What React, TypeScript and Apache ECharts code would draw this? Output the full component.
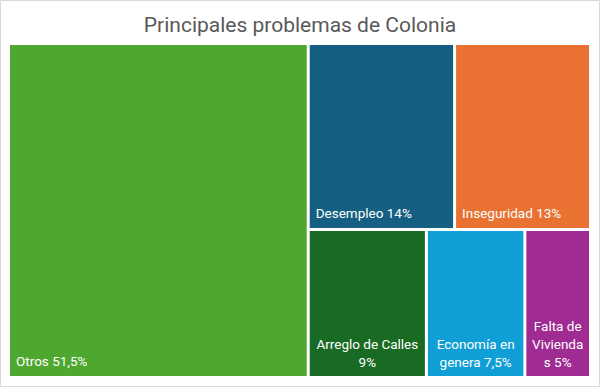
import React, { useEffect, useRef } from "react";
import * as echarts from "echarts";

const titleText = "Principales problemas de Colonia";
const names = ["Otros", "Desempleo", "Inseguridad", "Arreglo de Calles", "Economía en genera", "Falta de Viviendas"];
const values = [51.5, 14, 13, 9, 7.5, 5];
const labelTexts = ["Otros 51,5%", "Desempleo 14%", "Inseguridad 13%", "Arreglo de Calles\n9%", "Economía en\ngenera 7,5%", "Falta de\nVivienda\ns 5%"];
const colors = ["#4EA72E", "#156082", "#E97132", "#196B24", "#0F9ED5", "#A02B93"];
const centered = [false, false, false, true, true, true];

export default function App() {
  const ref = useRef<HTMLDivElement>(null);
  useEffect(() => {
    document.body.style.margin = "0";
    const chart = echarts.init(ref.current!, null, { renderer: "svg" });
    const data = names.map((n, i) => ({
      name: n,
      value: values[i],
      itemStyle: { color: colors[i] },
      label: centered[i]
        ? { position: "insideBottom", align: "center", distance: 0 }
        : { position: "insideBottomLeft", distance: 1 },
    }));
    chart.setOption({
      animation: false,
      backgroundColor: "#ffffff",
      title: {
        text: titleText,
        left: "center",
        top: 9,
        textStyle: { color: "#595959", fontSize: 21, fontWeight: "normal", fontFamily: "Roboto" },
      },
      graphic: [
        {
          type: "rect",
          shape: { x: 0.5, y: 0.5, width: 599, height: 386 },
          style: { fill: "none", stroke: "#d9d9d9", lineWidth: 1 },
          silent: true,
        },
      ],
      series: [
        {
          type: "treemap",
          left: 10,
          top: 45,
          width: 579,
          height: 331,
          roam: false,
          nodeClick: false,
          squareRatio: 1,
          breadcrumb: { show: false },
          sort: "desc",
          levels: [
            { itemStyle: { gapWidth: 3, borderWidth: 0, borderColor: "#ffffff" } },
            { itemStyle: { borderWidth: 0 } },
          ],
          label: {
            show: true,
            color: "#ffffff",
            fontSize: 13.5,
            fontFamily: "Roboto",
            lineHeight: 18,
            overflow: "none",
            formatter: (p: any) => labelTexts[names.indexOf(p.name)],
          },
          data,
        },
      ],
    });
    return () => chart.dispose();
  }, []);
  return <div ref={ref} style={{ position: "absolute", left: 0, top: 0, width: 600, height: 387 }} />;
}
